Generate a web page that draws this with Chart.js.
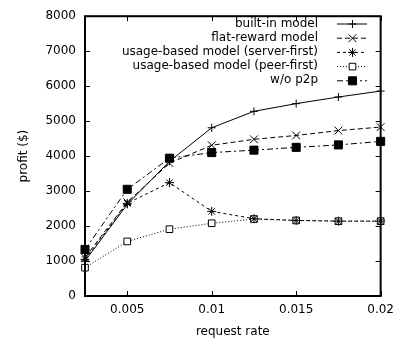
<!DOCTYPE html>
<html>
<head>
<meta charset="utf-8">
<script src="https://cdn.jsdelivr.net/npm/chart.js@4/dist/chart.umd.min.js"></script>
<style>
  html, body { margin: 0; padding: 0; background: #fff; }
  #wrap { width: 401px; height: 341px; }
</style>
</head>
<body>
<div id="wrap"><canvas id="chart" width="401" height="341"></canvas></div>
<script>
const requestRates = [0.0025, 0.005, 0.0075, 0.01, 0.0125, 0.015, 0.0175, 0.02];
const xTicks = [0.005, 0.01, 0.015, 0.02];
const yTicks = [0, 1000, 2000, 3000, 4000, 5000, 6000, 7000, 8000];

const builtIn = [1000, 2620, 3850, 4810, 5280, 5500, 5690, 5860];
const flatReward = [1100, 2680, 3800, 4310, 4480, 4590, 4730, 4830];
const serverFirst = [1050, 2650, 3240, 2420, 2210, 2160, 2140, 2140];
const peerFirst = [810, 1560, 1910, 2080, 2200, 2160, 2140, 2140];
const noP2p = [1330, 3050, 3940, 4100, 4170, 4250, 4320, 4420];

const seriesNames = [
    'built-in model',
    'flat-reward model',
    'usage-based model (server-first)',
    'usage-based model (peer-first)',
    'w/o p2p'
];

const FONT = { family: 'DejaVu Sans', size: 12 };

function toPoints(values) {
    return values.map((v, i) => ({ x: requestRates[i], y: v }));
}

function makeSet(label, values, dash, style, radius, fill) {
    return {
        label: label,
        data: toPoints(values),
        borderColor: '#000',
        borderWidth: 1,
        borderDash: dash,
        pointStyle: style,
        pointRadius: radius,
        pointBorderColor: '#000',
        pointBorderWidth: 1,
        pointBackgroundColor: fill,
        tension: 0,
        clip: false
    };
}

// gnuplot style frame, inward ticks and key
const gnuplotFrame = {
    id: 'gnuplotFrame',
    afterDatasetsDraw(chart) {
        const ctx = chart.ctx;
        const a = chart.chartArea;
        const xs = chart.scales.x, ys = chart.scales.y;
        ctx.save();
        ctx.strokeStyle = '#000';
        ctx.setLineDash([]);
        ctx.lineWidth = 1;
        const tl = 5;
        ctx.beginPath();
        yTicks.forEach(t => {
            const py = Math.round(ys.getPixelForValue(t)) + 0.5;
            ctx.moveTo(a.left, py); ctx.lineTo(a.left + tl, py);
            ctx.moveTo(a.right, py); ctx.lineTo(a.right - tl, py);
        });
        xTicks.forEach(t => {
            const px = Math.round(xs.getPixelForValue(t)) + 0.5;
            ctx.moveTo(px, a.bottom); ctx.lineTo(px, a.bottom - tl);
            ctx.moveTo(px, a.top); ctx.lineTo(px, a.top + tl);
        });
        ctx.stroke();
        ctx.lineWidth = 2;
        ctx.strokeRect(a.left, a.top, a.right - a.left, a.bottom - a.top);

        // key
        ctx.font = FONT.size + 'px ' + FONT.family;
        ctx.fillStyle = '#000';
        ctx.textAlign = 'right';
        ctx.textBaseline = 'middle';
        chart.data.datasets.forEach((ds, i) => {
            const y = 23.5 + i * 14.2;
            ctx.fillText(ds.label, 318, y);
            ctx.lineWidth = 1;
            ctx.setLineDash(ds.borderDash);
            ctx.beginPath();
            ctx.moveTo(337, y + 0.5);
            ctx.lineTo(367, y + 0.5);
            ctx.stroke();
            ctx.setLineDash([]);
            ctx.fillStyle = ds.pointBackgroundColor;
            Chart.helpers.drawPoint(ctx, {
                pointStyle: ds.pointStyle,
                radius: ds.pointRadius,
                borderWidth: 1
            }, 352.5, y + 0.5);
            ctx.fillStyle = '#000';
        });
        ctx.restore();
    }
};

new Chart(document.getElementById('chart'), {
    type: 'line',
    data: {
        datasets: [
            makeSet(seriesNames[0], builtIn, [], 'cross', 4, '#000'),
            makeSet(seriesNames[1], flatReward, [5, 3], 'crossRot', 5.5, '#000'),
            makeSet(seriesNames[2], serverFirst, [3, 3], 'star', 4.5, '#000'),
            makeSet(seriesNames[3], peerFirst, [1, 2], 'rect', 4.7, '#fff'),
            makeSet(seriesNames[4], noP2p, [6, 3, 2, 3], 'rect', 5.7, '#000')
        ]
    },
    options: {
        responsive: false,
        animation: false,
        devicePixelRatio: 1,
        layout: { padding: { top: 10, right: 18, left: 0, bottom: 0 } },
        scales: {
            x: {
                type: 'linear',
                min: 0.0025,
                max: 0.02,
                afterBuildTicks: scale => { scale.ticks = xTicks.map(v => ({ value: v })); },
                afterFit: scale => { scale.height = 45; },
                grid: { display: false, drawTicks: false },
                border: { display: false },
                ticks: {
                    color: '#000',
                    font: FONT,
                    padding: 7,
                    maxRotation: 0,
                    callback: v => String(v)
                },
                title: {
                    display: true,
                    text: 'request rate',
                    color: '#000',
                    font: FONT,
                    padding: { top: 0, bottom: 2 }
                }
            },
            y: {
                min: 0,
                max: 8000,
                afterBuildTicks: scale => { scale.ticks = yTicks.map(v => ({ value: v })); },
                afterFit: scale => { scale.width = 85; },
                grid: { display: false, drawTicks: false },
                border: { display: false },
                ticks: {
                    color: '#000',
                    font: FONT,
                    padding: 9,
                    callback: v => String(v)
                },
                title: {
                    display: true,
                    text: 'profit ($)',
                    color: '#000',
                    font: FONT,
                    padding: { top: 17, bottom: 0 }
                }
            }
        },
        plugins: {
            legend: { display: false },
            tooltip: { enabled: false }
        }
    },
    plugins: [gnuplotFrame]
});
</script>
</body>
</html>
